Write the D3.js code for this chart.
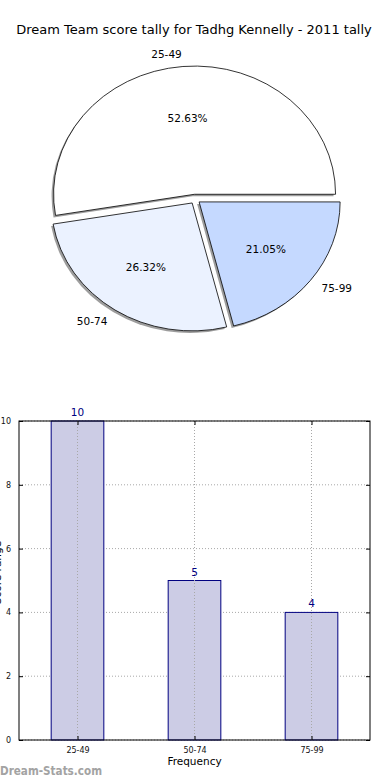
<!DOCTYPE html>
<html>
<head>
<meta charset="utf-8">
<script src="https://cdn.jsdelivr.net/npm/d3@7"></script>
<style>
  html, body { margin: 0; padding: 0; background: #fff; }
  svg { display: block; }
  text { font-family: "DejaVu Sans", sans-serif; }
</style>
</head>
<body>
<svg id="chart" width="390" height="780"></svg>
<script>
const categories = ["25-49", "50-74", "75-99"];
const counts = [10, 5, 4];
const pieColors = ["#ffffff", "#ebf2ff", "#c5d9ff"];
const yTicks = [0, 2, 4, 6, 8, 10];
const titleText = "Dream Team score tally for Tadhg Kennelly - 2011 tally";
const xLabelText = "Frequency";
const yLabelText = "Score range";
const watermark = "Dream-Stats.com";

(function () {
const svg = d3.select("#chart");

// Title
svg.append("text").attr("x", 194).attr("y", 34).attr("text-anchor", "middle")
  .attr("font-size", 13).text(titleText);

// ---------- Pie ----------
const cx = 195, cy = 199, rx = 141, ry = 128, explode = 0.037;
const total = d3.sum(counts);
let acc = 0;
const slices = counts.map((v, i) => {
  const t1 = acc / total * 2 * Math.PI;
  acc += v;
  const t2 = acc / total * 2 * Math.PI;
  const mid = (t1 + t2) / 2;
  const ox = explode * rx * Math.cos(mid), oy = -explode * ry * Math.sin(mid);
  return { i, v, t1, t2, mid, ox, oy, frac: v / total };
});
const arc = d3.arc().innerRadius(0).outerRadius(1);
const arcPath = s => arc({ startAngle: Math.PI / 2 - s.t2, endAngle: Math.PI / 2 - s.t1 });

const pieG = svg.append("g");
pieG.selectAll("path.shadow").data(slices).join("path")
  .attr("class", "shadow")
  .attr("d", arcPath)
  .attr("transform", s => `translate(${cx + s.ox - 2},${cy + s.oy + 2}) scale(${rx},${ry})`)
  .attr("fill", "#8c8c8c").attr("opacity", 0.85);
pieG.selectAll("path.slice").data(slices).join("path")
  .attr("class", "slice")
  .attr("d", arcPath)
  .attr("transform", s => `translate(${cx + s.ox},${cy + s.oy}) scale(${rx},${ry})`)
  .attr("fill", s => pieColors[s.i])
  .attr("stroke", "#000").attr("stroke-width", 0.8)
  .attr("vector-effect", "non-scaling-stroke");
pieG.selectAll("text.lbl").data(slices).join("text")
  .attr("class", "lbl")
  .attr("x", s => cx + s.ox + 1.1 * rx * Math.cos(s.mid))
  .attr("y", s => cy + s.oy - 1.1 * ry * Math.sin(s.mid))
  .attr("text-anchor", s => Math.cos(s.mid) < 0 ? "end" : "start")
  .attr("dominant-baseline", "central")
  .attr("font-size", 10.5).text(s => categories[s.i]);
pieG.selectAll("text.pct").data(slices).join("text")
  .attr("class", "pct")
  .attr("x", s => cx + s.ox + 0.6 * rx * Math.cos(s.mid))
  .attr("y", s => cy + s.oy - 0.6 * ry * Math.sin(s.mid))
  .attr("text-anchor", "middle")
  .attr("dominant-baseline", "central")
  .attr("font-size", 10.5).text(s => (s.frac * 100).toFixed(2) + "%");

// ---------- Bar chart ----------
const pL = 19, pR = 370, pT = 421, pB = 740;
const x = d3.scaleLinear().domain([-0.5, categories.length - 0.5]).range([pL, pR]);
const y = d3.scaleLinear().domain([0, 10]).range([pB, pT]);
const barW = 0.45;
const g = svg.append("g");

g.selectAll("line.hg").data(yTicks).join("line").attr("class", "hg")
  .attr("x1", pL).attr("x2", pR).attr("y1", d => y(d)).attr("y2", d => y(d))
  .attr("stroke", "#a8a8a8").attr("stroke-width", 1).attr("stroke-dasharray", "1,2");

g.selectAll("rect.bar").data(counts).join("rect").attr("class", "bar")
  .attr("x", (d, i) => x(i - barW / 2)).attr("width", (d, i) => x(i + barW / 2) - x(i - barW / 2))
  .attr("y", d => y(d)).attr("height", d => y(0) - y(d))
  .attr("fill", "#ccccE5").attr("stroke", "#000080").attr("stroke-width", 1);

g.selectAll("line.vg").data(categories).join("line").attr("class", "vg")
  .attr("x1", (d, i) => x(i)).attr("x2", (d, i) => x(i)).attr("y1", pT).attr("y2", pB)
  .attr("stroke", "#a8a8a8").attr("stroke-width", 1).attr("stroke-dasharray", "1,2");

g.selectAll("text.val").data(counts).join("text").attr("class", "val")
  .attr("x", (d, i) => x(i)).attr("y", d => y(d) - 5)
  .attr("text-anchor", "middle").attr("font-size", 10.5).attr("fill", "#000080")
  .text(d => d);

const axL = d3.axisLeft(y).tickValues(yTicks).tickSizeInner(-4).tickSizeOuter(0).tickPadding(8);
const axR = d3.axisRight(y).tickValues(yTicks).tickSizeInner(-4).tickSizeOuter(0).tickFormat("");
const axB = d3.axisBottom(x).tickValues(d3.range(categories.length)).tickFormat(i => categories[i])
  .tickSizeInner(-4).tickSizeOuter(0).tickPadding(7);
const axT = d3.axisTop(x).tickValues(d3.range(categories.length)).tickFormat("")
  .tickSizeInner(-4).tickSizeOuter(0);
[[axL, `translate(${pL},0)`], [axR, `translate(${pR},0)`],
 [axB, `translate(0,${pB})`], [axT, `translate(0,${pT})`]].forEach(([ax, tr]) => {
  const a = g.append("g").attr("transform", tr).call(ax);
  a.select(".domain").remove();
  a.selectAll("text").attr("font-size", 8).attr("font-family", "DejaVu Sans, sans-serif").attr("fill", "#111");
});

g.append("rect").attr("x", pL).attr("y", pT).attr("width", pR - pL).attr("height", pB - pT)
  .attr("fill", "none").attr("stroke", "#000").attr("stroke-width", 1);

svg.append("text").attr("x", (pL + pR) / 2).attr("y", 765).attr("text-anchor", "middle")
  .attr("font-size", 10.5).text(xLabelText);
svg.append("text").attr("transform", `translate(1,${(pT + pB) / 2 - 8}) rotate(-90)`)
  .attr("text-anchor", "middle").attr("font-size", 10.5).text(yLabelText);

svg.append("text").attr("x", 0).attr("y", 775).attr("font-size", 12.5).attr("font-weight", 600)
  .attr("font-family", "Open Sans, sans-serif").attr("fill", "#a3a3a3")
  .attr("textLength", 102).attr("lengthAdjust", "spacingAndGlyphs").text(watermark);
})();
</script>
</body>
</html>
